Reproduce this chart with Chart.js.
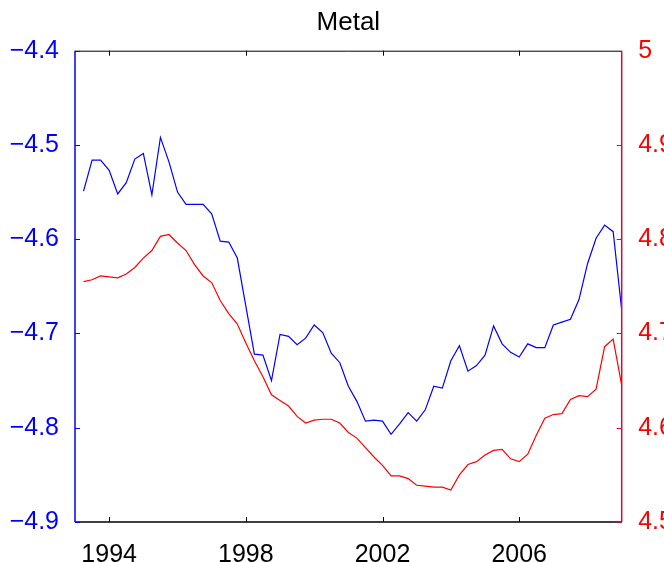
<!DOCTYPE html>
<html>
<head>
<meta charset="utf-8">
<script src="https://cdn.jsdelivr.net/npm/chart.js@4/dist/chart.umd.min.js"></script>
<style>
  body { margin: 0; background: #fff; }
  canvas { display: block; }
</style>
</head>
<body>
<canvas id="chart" width="664" height="562"></canvas>
<script>
// quarterly series, first observation in 1993 Q2
const firstQuarter = 1993.25;
const metalLeft = [
  -4.549, -4.516, -4.516, -4.527, -4.552, -4.540, -4.515, -4.509, -4.553, -4.492,
  -4.518, -4.550, -4.563, -4.563, -4.563, -4.573, -4.602, -4.603, -4.620, -4.671,
  -4.722, -4.723, -4.750, -4.701, -4.703, -4.712, -4.705, -4.691, -4.699, -4.721,
  -4.731, -4.756, -4.772, -4.793, -4.792, -4.793, -4.807, -4.796, -4.784, -4.793,
  -4.781, -4.756, -4.758, -4.729, -4.713, -4.740, -4.734, -4.723, -4.692, -4.711,
  -4.720, -4.725, -4.711, -4.715, -4.715, -4.691, -4.688, -4.685, -4.664, -4.626,
  -4.599, -4.585, -4.592, -4.675
];
const metalRight = [
  4.755, 4.757, 4.761, 4.760, 4.759, 4.763, 4.770, 4.780, 4.788, 4.803,
  4.805, 4.796, 4.788, 4.773, 4.761, 4.754, 4.735, 4.721, 4.710, 4.690,
  4.671, 4.654, 4.635, 4.629, 4.623, 4.612, 4.605, 4.608, 4.609, 4.609,
  4.605, 4.595, 4.589, 4.579, 4.569, 4.560, 4.549, 4.549, 4.546, 4.539,
  4.538, 4.537, 4.537, 4.534, 4.550, 4.561, 4.564, 4.571, 4.576, 4.577,
  4.567, 4.564, 4.572, 4.592, 4.610, 4.614, 4.615, 4.630, 4.634, 4.633,
  4.641, 4.686, 4.694, 4.645
];
const yearTicks = [1994, 1998, 2002, 2006];
const leftTicks = [-4.9, -4.8, -4.7, -4.6, -4.5, -4.4];
const rightTicks = [4.5, 4.6, 4.7, 4.8, 4.9, 5];
const chartTitle = 'Metal';

const toPoints = vals => vals.map((v, i) => ({ x: firstQuarter + i * 0.25, y: v }));

const fontFamily = "'Liberation Sans', Arial, sans-serif";
const font = { family: fontFamily, size: 25 };
const rightAxisColor = '#c8103c';

// MATLAB style frame with inward ticks, title centred over the axes
const frameTicks = {
  id: 'frameTicks',
  afterDatasetsDraw(chart) {
    const { ctx, chartArea: a, scales } = chart;
    const len = 5;
    ctx.save();

    ctx.fillStyle = '#000';
    ctx.font = '26px ' + fontFamily;
    ctx.textAlign = 'center';
    ctx.textBaseline = 'alphabetic';
    ctx.fillText(chartTitle, (a.left + a.right) / 2, 29.5);

    ctx.lineWidth = 1;
    ctx.strokeStyle = '#000';
    ctx.beginPath();
    ctx.moveTo(a.left, a.top + 0.5); ctx.lineTo(a.right, a.top + 0.5);
    ctx.stroke();
    ctx.lineWidth = 1.5;
    ctx.beginPath();
    ctx.moveTo(a.left, a.bottom); ctx.lineTo(a.right, a.bottom);
    ctx.stroke();
    ctx.lineWidth = 1;
    yearTicks.forEach(v => {
      const px = Math.round(scales.x.getPixelForValue(v)) + 0.5;
      ctx.beginPath();
      ctx.moveTo(px, a.bottom); ctx.lineTo(px, a.bottom - len);
      ctx.moveTo(px, a.top); ctx.lineTo(px, a.top + len);
      ctx.stroke();
    });

    ctx.strokeStyle = '#0000ff';
    ctx.lineWidth = 1.5;
    ctx.beginPath();
    ctx.moveTo(a.left, a.top); ctx.lineTo(a.left, a.bottom);
    ctx.stroke();
    ctx.lineWidth = 1;
    leftTicks.forEach(v => {
      const py = Math.round(scales.y.getPixelForValue(v)) + 0.5;
      ctx.beginPath();
      ctx.moveTo(a.left, py); ctx.lineTo(a.left + len, py);
      ctx.stroke();
    });

    ctx.strokeStyle = rightAxisColor;
    ctx.lineWidth = 1.5;
    ctx.beginPath();
    ctx.moveTo(a.right, a.top); ctx.lineTo(a.right, a.bottom);
    ctx.stroke();
    ctx.lineWidth = 1;
    rightTicks.forEach(v => {
      const py = Math.round(scales.y2.getPixelForValue(v)) + 0.5;
      ctx.beginPath();
      ctx.moveTo(a.right, py); ctx.lineTo(a.right - len, py);
      ctx.stroke();
    });
    ctx.restore();
  }
};

new Chart(document.getElementById('chart'), {
  type: 'line',
  data: {
    datasets: [
      {
        data: toPoints(metalLeft),
        yAxisID: 'y',
        borderColor: '#0000ff',
        borderWidth: 1.2,
        pointRadius: 0,
        tension: 0
      },
      {
        data: toPoints(metalRight),
        yAxisID: 'y2',
        borderColor: '#ff0000',
        borderWidth: 1.2,
        pointRadius: 0,
        tension: 0
      }
    ]
  },
  options: {
    responsive: false,
    animation: false,
    events: [],
    layout: { padding: { left: 0, right: 0, top: 50.7, bottom: 0 } },
    plugins: {
      legend: { display: false },
      tooltip: { enabled: false },
      title: { display: false }
    },
    scales: {
      x: {
        type: 'linear',
        min: 1993,
        max: 2009,
        afterBuildTicks: s => { s.ticks = yearTicks.map(v => ({ value: v })); },
        afterFit: s => { s.height = 40; },
        grid: { display: false },
        border: { display: false },
        ticks: {
          color: '#000',
          font: font,
          padding: 9.7,
          maxRotation: 0,
          callback: v => String(v)
        }
      },
      y: {
        position: 'left',
        min: -4.9,
        max: -4.4,
        afterBuildTicks: s => { s.ticks = leftTicks.map(v => ({ value: v })); },
        afterFit: s => { s.width = 75; },
        grid: { display: false },
        border: { display: false },
        ticks: {
          color: '#0000ff',
          font: font,
          padding: 8,
          callback: v => '\u2212' + Math.abs(v).toFixed(1)
        }
      },
      y2: {
        position: 'right',
        min: 4.5,
        max: 5,
        afterBuildTicks: s => { s.ticks = rightTicks.map(v => ({ value: v })); },
        afterFit: s => { s.width = 42.3; },
        grid: { display: false },
        border: { display: false },
        ticks: {
          color: '#ff0000',
          font: font,
          padding: 8.5,
          callback: v => (v === 5 ? '5' : v.toFixed(1))
        }
      }
    }
  },
  plugins: [frameTicks]
});
</script>
</body>
</html>
